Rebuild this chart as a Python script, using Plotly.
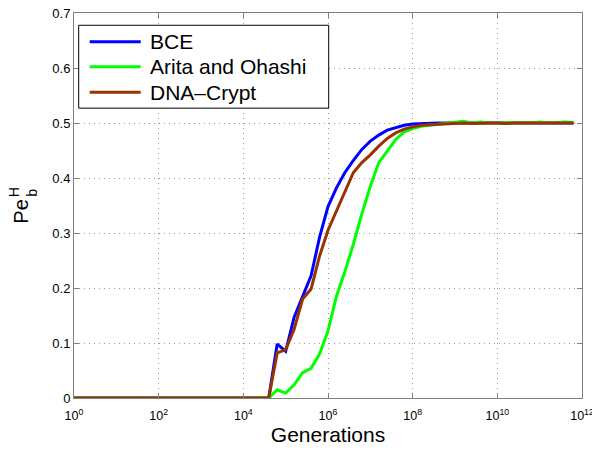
import plotly.graph_objects as go

# Exponents of generations (x = 10**exp)
exps = [0, 4.6, 4.8, 5.0, 5.2, 5.4, 5.6, 5.8, 6.0, 6.2, 6.4, 6.6, 6.8, 7.0, 7.2, 7.4, 7.6,
        7.8, 8.0, 8.2, 8.4, 8.6, 8.8, 9.0, 9.2, 9.4, 9.6, 9.8, 10.0, 10.2, 10.4, 10.6,
        10.8, 11.0, 11.2, 11.4, 11.6, 11.8]

bce = [0, 0, 0.098, 0.085, 0.147, 0.184, 0.222, 0.292, 0.348, 0.382, 0.410, 0.432, 0.452,
       0.467, 0.478, 0.487, 0.492, 0.496, 0.498, 0.499, 0.500, 0.500, 0.500, 0.500, 0.500,
       0.500, 0.499, 0.500, 0.500, 0.500, 0.500, 0.500, 0.499, 0.500, 0.500, 0.500, 0.500, 0.500]

arita = [0, 0, 0.015, 0.009, 0.024, 0.046, 0.054, 0.080, 0.122, 0.185, 0.230, 0.280, 0.335,
         0.385, 0.428, 0.450, 0.470, 0.484, 0.490, 0.494, 0.496, 0.498, 0.499, 0.501, 0.503,
         0.500, 0.502, 0.500, 0.499, 0.501, 0.500, 0.501, 0.500, 0.502, 0.500, 0.501, 0.502, 0.501]

dna = [0, 0, 0.082, 0.088, 0.125, 0.180, 0.198, 0.258, 0.305, 0.340, 0.375, 0.410, 0.428,
       0.442, 0.458, 0.472, 0.482, 0.489, 0.493, 0.496, 0.497, 0.498, 0.499, 0.499, 0.500,
       0.499, 0.500, 0.500, 0.500, 0.499, 0.500, 0.500, 0.500, 0.499, 0.500, 0.500, 0.500, 0.500]

series_names = ["BCE", "Arita and Ohashi", "DNA\u2013Crypt"]
series_colors = ["#0000ff", "#00ff00", "#993300"]

x_tick_exps = [0, 2, 4, 6, 8, 10, 12]
x_tick_text = ["10<sup>0</sup>", "10<sup>2</sup>", "10<sup>4</sup>", "10<sup>6</sup>",
               "10<sup>8</sup>", "10<sup>10</sup>", "10<sup>12</sup>"]
y_ticks = [0, 0.1, 0.2, 0.3, 0.4, 0.5, 0.6, 0.7]
y_tick_text = ["0", "0.1", "0.2", "0.3", "0.4", "0.5", "0.6", "0.7"]

gens = [10 ** e for e in exps]

FONT = "Liberation Sans, Arial, Helvetica, sans-serif"

fig = go.Figure()
for name, ys, col in zip(series_names, [bce, arita, dna], series_colors):
    fig.add_trace(go.Scatter(x=gens, y=ys, mode="lines", name=name,
                             line=dict(color=col, width=3)))

# The page body adds an 8px offset; size the figure to fill the rest of the window.
OFF = 8
W, H = 600 - OFF, 451 - OFF
PLOT_L, PLOT_R, PLOT_T, PLOT_B = 74.3, 582.3, 12.7, 398.3  # window pixels
L = PLOT_L - OFF
T = PLOT_T - OFF
R = W - (PLOT_R - OFF)
B = H - (PLOT_B - OFF)
pw = PLOT_R - PLOT_L
ph = PLOT_B - PLOT_T


def xp(X):
    return (X - PLOT_L) / pw


def yp(Y):
    return (PLOT_B - Y) / ph


fig.update_layout(
    width=W, height=H,
    margin=dict(l=L, r=R, t=T, b=B, pad=0),
    paper_bgcolor="white", plot_bgcolor="white",
    font=dict(family=FONT, color="black", size=13),
    showlegend=False,
)

axis_common = dict(
    showgrid=True, gridcolor="#9a9a9a", griddash="1px,4px", gridwidth=1,
    showline=True, linecolor="#808080", linewidth=1, mirror="ticks",
    ticks="inside", ticklen=5, tickcolor="#808080",
    ticklabeloverflow="allow",
    zeroline=False, automargin=False,
)

fig.update_xaxes(
    type="log", range=[0, 12],
    tickvals=[10 ** e for e in x_tick_exps], ticktext=x_tick_text,
    ticklabelstandoff=6,
    tickfont=dict(size=12.5, family=FONT, color="black"),
    title=dict(text="Generations", font=dict(size=21, family=FONT), standoff=5),
    **axis_common,
)
fig.update_yaxes(
    range=[0, 0.7],
    tickvals=y_ticks, ticktext=y_tick_text,
    tickfont=dict(size=13, family=FONT, color="black"),
    **axis_common,
)

# Legend drawn as a framed box (MATLAB style)
fig.add_shape(type="rect", xref="paper", yref="paper",
              x0=xp(79), x1=xp(329), y0=yp(108), y1=yp(25),
              line=dict(color="black", width=1), fillcolor="white", layer="above")
row_y = [41.5, 66.5, 92]
for name, col, ry in zip(series_names, series_colors, row_y):
    fig.add_shape(type="line", xref="paper", yref="paper",
                  x0=xp(90), x1=xp(141), y0=yp(ry), y1=yp(ry),
                  line=dict(color=col, width=3), layer="above")
    fig.add_annotation(text=name, xref="paper", yref="paper", x=xp(148), y=yp(ry),
                       xanchor="left", yanchor="middle", showarrow=False,
                       font=dict(size=21, family=FONT, color="black"))

# Y-axis label Pe_b^H with stacked sub/superscript
fig.add_annotation(text="Pe", xref="paper", yref="paper", x=xp(21), y=yp(212),
                   xanchor="center", yanchor="middle", showarrow=False, textangle=-90,
                   font=dict(size=20, family=FONT))
fig.add_annotation(text="H", xref="paper", yref="paper", x=xp(14), y=yp(192.5),
                   xanchor="center", yanchor="middle", showarrow=False, textangle=-90,
                   font=dict(size=14, family=FONT))
fig.add_annotation(text="b", xref="paper", yref="paper", x=xp(32), y=yp(193),
                   xanchor="center", yanchor="middle", showarrow=False, textangle=-90,
                   font=dict(size=14, family=FONT))

fig.write_html("out.html")
